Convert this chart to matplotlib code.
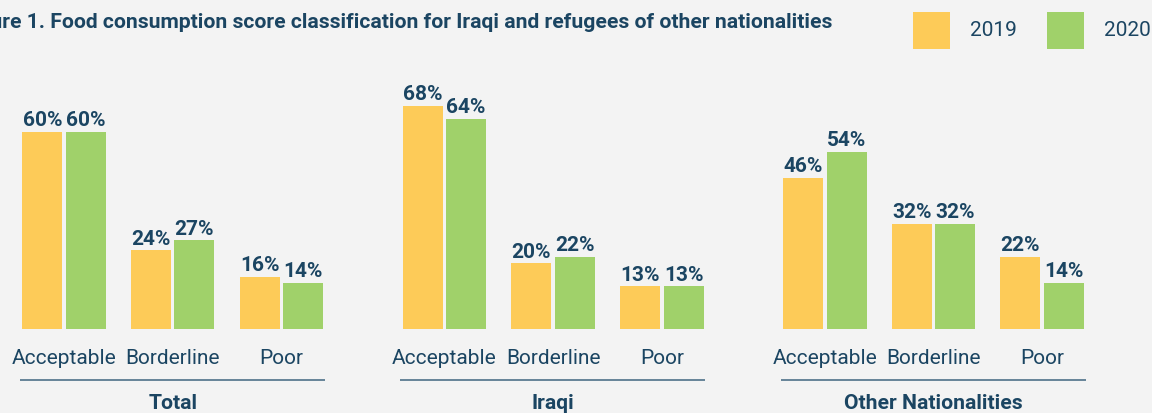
import matplotlib
matplotlib.use("Agg")
import matplotlib.pyplot as plt
from matplotlib.patches import Rectangle

plt.rcParams['font.family'] = ['Roboto', 'DejaVu Sans']

# Data
groups = ["Total", "Iraqi", "Other Nationalities"]
categories = ["Acceptable", "Borderline", "Poor"]
years = ["2019", "2020"]
values_2019 = [[60, 24, 16], [68, 20, 13], [46, 32, 22]]
values_2020 = [[60, 27, 14], [64, 22, 13], [54, 32, 14]]

# Style
BG = "#f3f3f3"
YELLOW = "#fdcb58"
GREEN = "#a0d16a"
TEXT = "#1b4562"
LINE = "#5b7b91"
GROUP_STEP = 3.5
BAR_W = 0.368
OFFSET = 0.2
W, H = 1152, 414

fig = plt.figure(figsize=(W / 100, H / 100), dpi=100, facecolor=BG)
ax = fig.add_axes([0, 0, 1, 1])
ax.set_facecolor(BG)
ax.set_xlim(-0.589, 10.01)
ax.set_ylim(-25.6, 100.6)
ax.axis("off")

for g, name in enumerate(groups):
    base = g * GROUP_STEP
    for c, cat in enumerate(categories):
        x = base + c
        for vals, color, off in ((values_2019, YELLOW, -OFFSET), (values_2020, GREEN, OFFSET)):
            v = vals[g][c]
            ax.bar(x + off, v, width=BAR_W, color=color, linewidth=0)
            ax.annotate(f"{v}%", (x + off, v), xytext=(0, 2), textcoords="offset points",
                        ha="center", va="bottom", fontsize=15, fontweight="bold", color=TEXT)
        ax.text(x, -8.6, cat, ha="center", va="center", fontsize=15, color=TEXT)
    ax.plot([base - 0.405, base + 2.4], [-15.5, -15.5], color=LINE, lw=1.3, solid_capstyle="butt")
    ax.text(base + 1, -24.1, name, ha="center", va="baseline", fontsize=15.2,
            fontweight="bold", color=TEXT)

fig.text(832 / W, 1 - 22 / H,
         "Figure 1. Food consumption score classification for Iraqi and refugees of other nationalities",
         ha="right", va="center", fontsize=15.2, fontweight="bold", color=TEXT)

# legend squares + labels
for i, (yr, color) in enumerate(zip(years, [YELLOW, GREEN])):
    x0 = 913 + i * 134
    fig.add_artist(Rectangle((x0 / W, 1 - 50 / H), 37 / W, 37 / H, transform=fig.transFigure,
                             facecolor=color, edgecolor="none"))
    fig.text((x0 + 57) / W, 1 - 31 / H, yr, ha="left", va="center", fontsize=15, color=TEXT)

fig.savefig("out.png", dpi=100, facecolor=BG)
